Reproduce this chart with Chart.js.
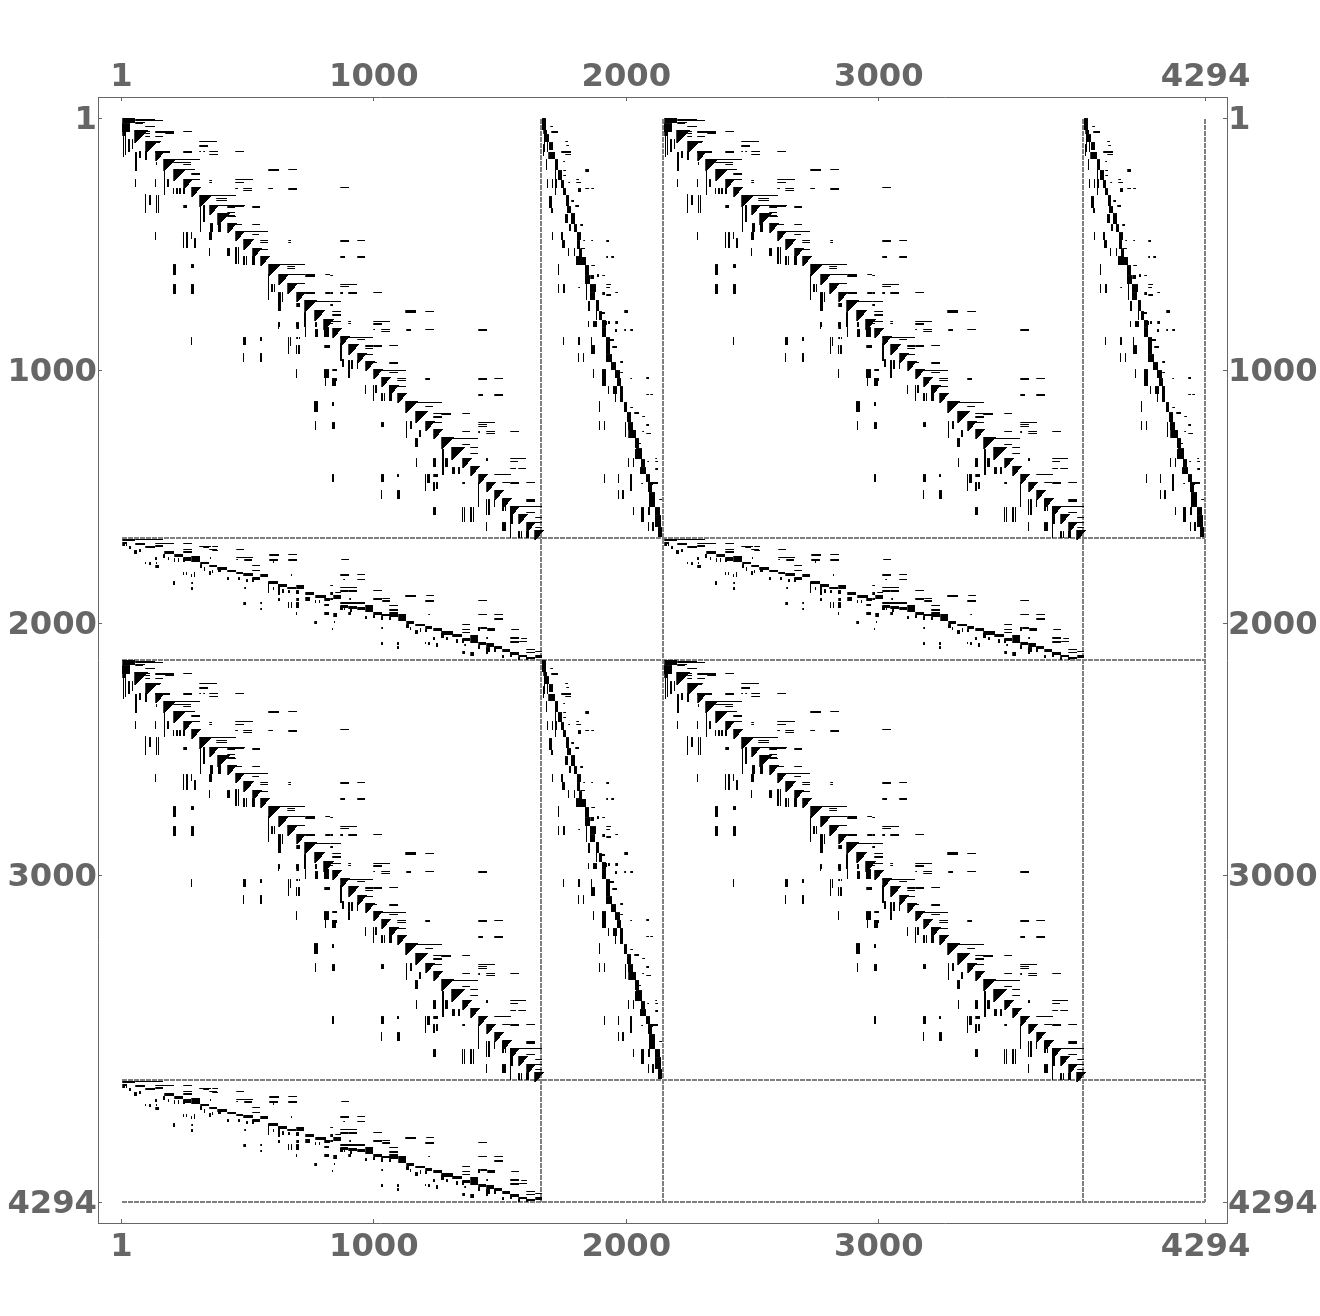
<!DOCTYPE html>
<html>
<head>
<meta charset="utf-8">
<title>Sparse matrix pattern</title>
<script src="https://cdn.jsdelivr.net/npm/chart.js@4"></script>
<style>
  html, body { margin: 0; padding: 0; background: #fff; }
  canvas { display: block; }
</style>
</head>
<body>
<canvas id="myChart" width="1320" height="1316"></canvas>
<script>
//TICK LABELS
const tickValues = [1, 1000, 2000, 3000, 4294];

//MATRIX IS READ IN CELLS OF ABOUT 4 ROWS / COLUMNS
const indicesPerCell = 3.96;

//WHERE THE REPEATED BLOCKS SIT (CELLS: COLUMN, ROW)
const blockACorners = [[0, 0], [542, 0], [0, 542], [542, 542]];
const blockBCorners = [[420, 0], [962, 0], [420, 542]];
const blockCCorners = [[0, 420], [542, 420], [0, 962]];

//SEPARATOR ROWS AND COLUMNS (MATRIX INDEX)
const separators = [1663, 2145, 3809, 4292];

//BLOCK A - FIRST COLUMN OF EACH DENSE DIAGONAL TRIANGLE
const diagStarts = [13, 24, 34, 42, 52, 62, 70, 78, 88, 96, 106, 114, 122, 131, 139, 147, 157, 166, 175, 183, 193, 202, 211, 219, 227, 236, 244, 252, 260, 268, 276, 284, 294, 304, 312, 320, 330, 341, 349, 357, 365, 373, 381, 389, 397, 405, 413, 421];

//BLOCK A - NONZERO RUNS ABOVE THE DIAGONAL [col1, col2, row1, row2]
const blockAUpper = [
  [1,13,0,4],[1,8,5,13],[1,4,14,17],
  [14,33,1,1],[14,41,2,2],[14,23,4,4],[14,21,5,5],[24,33,8,8],[24,28,13,13],[34,52,13,14],[62,70,13,13],[24,28,15,15],[44,52,15,15],[24,28,18,18],[34,41,18,18],
  [34,39,23,23],[78,95,23,23],[34,38,24,24],[78,86,27,28],[34,48,33,34],[62,70,33,34],[78,79,33,33],[82,83,33,33],[88,96,33,33],[114,122,33,33],[88,96,36,36],
  [44,78,41,41],[52,69,44,44],[62,69,46,46],[62,73,51,51],[147,157,51,52],[167,175,51,51],[70,78,55,56],[70,78,61,61],[114,131,61,61],[88,90,62,62],[88,90,64,64],[114,122,64,64],
  [114,116,70,70],[122,130,70,70],[147,151,70,70],[167,175,70,71],[122,130,72,72],[79,114,77,77],[95,105,80,80],[95,105,82,82],[96,123,87,87],[106,122,88,88],[131,138,88,89],[106,113,89,89],
  [106,113,94,94],[106,113,97,97],[106,114,98,98],[114,120,106,106],[131,138,106,106],[122,146,113,113],[131,137,116,116],[139,146,122,122],[167,169,122,122],[139,146,124,124],[167,169,124,124],[139,146,131,131],
  [156,183,146,146],[166,173,148,148],[166,173,150,150],[166,183,156,156],[184,193,156,158],[204,208,156,156],[175,183,165,165],[184,193,174,175],[204,208,174,175],[194,208,183,183],
  [219,227,69,69],[219,227,122,123],[236,243,122,122],[219,223,138,139],[236,243,138,139],[209,211,157,157],[219,235,166,166],[219,227,168,168],
  [209,211,174,175],[219,221,174,175],[227,235,174,175],[252,260,174,174],[209,219,183,183],[209,211,186,187],[284,294,192,194],[304,312,193,193],[211,219,193,193],[211,219,196,197],
  [209,219,203,203],[227,229,203,203],[252,268,203,203],[209,211,205,205],[227,229,205,205],[252,260,205,206],
  [252,253,211,211],[260,268,211,211],[285,289,211,212],[304,312,211,211],[357,365,211,212],[260,268,213,213],[219,251,219,219],[236,243,221,221],[252,260,227,228],[244,251,227,228],[268,276,227,227],
  [244,251,230,230],[244,251,236,236],[268,276,244,245],[252,255,244,244],[211,215,251,252],[260,284,252,252],[268,276,254,254],[211,215,260,262],[276,284,260,260],[304,308,260,261],[357,365,260,261],[373,381,260,260],
  [276,284,262,262],[276,284,268,268],[357,361,276,277],[373,381,276,277],[294,320,284,284],[304,311,288,288],[312,329,295,295],[320,329,296,296],[341,348,295,295],[312,320,298,299],
  [312,320,304,304],[357,373,304,304],[357,365,306,306],[357,365,308,308],[341,348,313,313],[357,358,313,314],[365,373,313,313],[389,397,313,313],[365,373,315,315],[321,356,320,320],[341,348,326,326],
  [349,356,329,329],[349,356,335,335],[389,404,340,340],[365,366,340,342],[389,396,343,343],[389,394,350,350],[397,404,350,350],[373,389,356,356],[381,388,364,364],[389,397,364,365],[405,413,364,364],
  [405,413,381,383],[397,420,388,388],[405,413,394,394],[414,420,399,399],[414,420,404,404],[414,420,409,409]
];

//BLOCK A - NONZERO RUNS BELOW THE DIAGONAL [col1, col2, row1, row2]
const blockALower = [
  [2,2,18,38],[4,4,18,36],[7,8,21,33],[11,11,21,30],[14,15,34,52],[14,14,61,68],[18,19,33,39],[24,25,33,41],[24,24,76,94],[28,29,77,86],[34,34,61,68],[35,35,77,94],[37,37,77,94],[34,34,114,121],[35,35,44,46],
  [43,43,51,76],[46,47,61,68],[52,52,70,75],[55,56,70,75],[58,59,70,75],[62,63,70,75],[62,65,87,89],[52,54,146,156],[52,54,166,175],[70,72,146,149],[70,72,166,175],[62,62,114,129],[65,66,114,129],[70,70,114,120],[73,74,120,129],
  [79,79,87,113],[82,83,87,103],[88,90,114,121],[88,88,130,137],[89,91,105,113],[97,99,105,113],[106,108,130,137],[114,115,129,145],[117,117,129,145],[122,123,138,146],[125,125,138,146],[131,133,138,146],[147,147,156,181],[150,151,166,173],[153,153,166,173],[157,159,174,192],[161,161,174,183],
  [175,178,185,188],[157,158,204,208],[175,177,204,208],[183,184,194,208],[194,195,204,208],
  [70,70,219,226],[122,124,219,226],[122,122,235,243],[139,140,219,222],[139,140,235,243],[167,167,219,235],[169,169,219,227],[175,176,219,220],[178,178,219,220],[175,175,227,235],[177,178,227,235],[157,157,209,210],[175,177,209,210],[184,184,209,218],[194,196,211,218],[203,207,209,218],[203,208,227,229],
  [175,175,251,259],[203,207,251,259],[204,204,260,267],[193,196,283,293],[194,194,303,311],
  [219,220,225,242],[221,222,241,248],[227,228,242,250],[230,231,242,250],[236,236,242,250],[227,228,251,259],[244,244,267,275],[252,252,267,282],[254,255,267,274],[260,261,275,282],[263,263,275,282],[268,270,267,282],
  [211,214,260,267],[211,213,304,310],[260,262,304,308],[211,212,284,287],[298,299,312,318],[294,296,320,328],[285,285,303,319],[289,290,303,310],[295,295,340,348],[312,314,340,348],[321,322,331,356],[324,326,340,348],[331,333,349,355],[337,338,349,355],
  [211,212,356,363],[260,262,356,363],[260,260,372,380],[276,278,372,380],[276,277,356,358],[304,304,356,372],[306,308,356,364],[312,316,356,358],[312,313,364,372],[315,316,364,370],[341,343,364,365],[357,357,364,388],[365,365,381,396],[367,368,381,396],[373,373,381,388],[381,382,381,392],[384,384,381,392],
  [312,314,389,396],[341,341,389,403],[343,343,389,403],[349,350,389,403],[352,352,389,403],[365,365,404,412],[381,384,404,412],[389,391,388,405],[389,389,406,419],[397,398,413,419],[400,400,413,419],[405,407,413,419]
];

//BLOCK B - NARROW STEEP DIAGONAL [col1, col2, row1, row2]
const blockBDiagonal = [
  [1,4,0,11],[2,5,12,15],[4,7,16,23],[8,11,24,31],[7,13,34,40],[14,16,41,51],[17,20,52,61],[20,22,62,69],[22,24,70,76],[25,27,77,87],[26,29,88,94],[24,26,96,104],[30,33,95,105],[28,29,106,112],[33,35,106,113],
  [36,39,114,121],[36,38,122,130],[38,40,131,138],[36,44,139,146],[44,47,147,156],[44,48,157,165],[49,52,157,160],[49,54,166,173],[49,53,174,181],[55,57,182,192],[58,60,193,201],[61,64,202,208],
  [61,64,209,218],[65,68,219,235],[65,70,236,243],[70,74,244,251],[74,78,252,259],[76,79,260,267],[79,81,268,283],[83,85,284,293],[86,89,294,303],[87,91,304,311],[87,94,312,319],[94,97,320,329],[95,100,330,340],
  [100,103,341,348],[99,104,349,355],[105,108,356,363],[107,110,364,373],[108,113,374,388],[114,118,389,396],[114,119,397,408],[117,120,409,418]
];

//BLOCK B - RUNS LEFT OF THE DIAGONAL
const blockBLeft = [
  [3,3,14,33],[6,6,24,33],[2,2,26,37],[5,5,41,51],[6,6,61,69],[11,11,61,69],[14,15,61,69],[14,14,52,76],[8,10,78,89],[10,11,90,94],[11,11,114,121],[20,21,114,121],[21,23,122,129],[27,27,130,137],[33,33,130,137],[35,37,138,146],
  [17,17,146,156],[17,17,166,174],[22,23,166,174],[45,45,166,181],[47,48,183,192],[55,55,182,201],[47,47,203,208],[52,55,203,208],
  [22,22,219,226],[37,38,219,226],[50,53,227,235],[50,50,219,226],[37,37,235,243],[42,42,235,243],[52,52,251,259],[61,64,251,267],[67,67,268,275],[72,75,268,275],[74,74,276,283],[58,58,283,293],[58,58,303,311],[63,63,303,311],[84,84,304,318],
  [87,87,340,348],[92,92,340,348],[94,95,331,340],[63,63,356,364],[77,77,356,364],[89,90,356,372],[77,77,372,380],[81,82,372,380],[92,92,389,396],[100,102,389,403],[107,107,404,412],[111,112,404,412],[107,108,389,396]
];

//BLOCK B - RUNS RIGHT OF THE DIAGONAL
const blockBRight = [
  [9,11,8,8],[10,16,13,14],[24,26,23,23],[25,27,27,27],[20,29,33,34],[24,29,36,36],[22,23,43,43],[44,47,51,53],[22,24,52,52],[22,24,57,57],[35,37,61,61],[35,39,64,64],[27,28,64,64],[37,39,70,73],[44,47,70,70],[50,52,70,70],
  [30,32,82,83],[34,37,87,88],[39,41,106,107],[42,43,122,122],[50,51,122,122],[65,67,122,123],[39,43,130,130],[65,66,138,139],[70,72,138,139],[50,53,147,147],[56,57,156,158],[61,63,157,157],[65,69,166,166],[65,68,169,169],
  [61,63,174,176],[65,69,176,177],[74,76,174,174],[83,86,192,194],[58,63,194,195],[62,65,203,206],[67,68,203,205],[74,76,203,205],[37,38,169,169],
  [74,75,211,213],[83,84,211,212],[89,91,211,212],[68,72,221,222],[71,75,228,229],[79,81,243,244],[79,81,254,254],[89,90,260,260],[105,107,259,260],[105,107,276,276],[109,111,276,276],[89,91,289,289],[93,97,294,295],[101,103,298,298],
  [105,107,306,307],[101,102,313,313],[105,109,315,315],[97,99,325,325],[114,115,340,340],[114,116,343,343],[114,116,350,351],[106,107,343,343],[109,116,364,365],[118,120,381,381],[108,111,365,366],[100,101,365,365]
];

//BLOCK C - FLAT BAND OF THE DIAGONAL [col1, col2, row1, row2]
const blockCDiagonal = [
  [1,13,1,2],[14,41,1,1],[1,5,4,5],[14,23,5,6],[24,33,8,9],[34,41,7,8],[34,52,5,5],[62,70,5,5],[43,52,13,15],[53,61,16,18],[62,70,13,14],[62,69,19,22],[70,78,18,23],[79,87,24,25],[88,95,27,28],[96,105,29,31],[106,114,32,33],
  [115,121,34,35],[122,131,35,37],[131,138,39,41],[139,146,36,38],[147,156,43,45],[157,165,46,48],[166,174,49,50],[175,182,47,50],[184,192,54,56],[194,204,57,59],[203,208,60,62],
  [209,211,54,56],[212,219,57,60],[209,211,60,61],[219,243,64,65],[219,226,67,69],[227,235,68,70],[236,243,69,71],[244,251,67,73],[252,260,74,76],[260,268,76,77],[268,276,74,78],[277,284,76,82],[285,292,83,85],[294,303,86,87],
  [304,310,88,90],[312,320,90,92],[320,331,93,96],[331,340,96,98],[341,348,100,102],[349,356,97,104],[357,364,104,106],[365,372,105,108],[373,380,108,110],[381,388,111,113],[389,397,114,116],[397,405,117,118],[406,413,119,120],[414,420,117,119]
];

//BLOCK C - RUNS ABOVE THE BAND
const blockCAbove = [
  [78,89,8,8],[82,87,9,9],[91,96,8,8],[91,96,12,12],[88,95,11,11],[115,122,11,11],[62,70,11,11],[148,157,16,17],[167,175,16,16],[167,175,21,22],[148,156,21,22],[115,131,19,19],[123,130,21,22],[115,116,21,21],[131,138,27,27],[131,138,32,32],
  [220,227,21,21],[219,227,36,37],[236,243,36,36],[236,243,41,41],[222,223,41,41],[209,211,47,47],[219,235,49,49],[219,226,52,53],[227,235,52,53],[214,219,54,54],[252,260,52,52],[252,260,60,61],[261,268,60,60],[261,268,62,63],
  [284,294,57,58],[305,312,57,57],[304,312,62,63],[357,365,62,62],[268,276,67,67],[268,276,71,72],[307,308,76,76],[357,365,76,76],[373,381,76,76],[373,381,80,81],[341,348,86,86],[341,348,91,91],[341,348,94,94],[357,358,89,92],[359,365,89,90],[366,373,90,92],[390,397,91,91],
  [389,397,99,100],[400,405,100,100],[398,405,103,103],[389,397,103,104],[405,413,111,111],[405,413,114,114],[414,420,113,113],[365,366,99,100]
];

//BLOCK C - RUNS BELOW THE BAND
const blockCBelow = [
  [1,3,6,7],[5,5,4,7],[8,9,8,10],[13,15,12,15],[18,19,11,13],[24,24,24,25],[28,29,24,26],[34,37,27,29],[34,35,19,21],[35,35,24,25],[42,43,16,19],[47,47,19,21],[53,53,20,23],[57,57,20,23],[62,63,20,23],[70,70,36,38],[62,62,34,36],[65,65,34,36],[73,73,34,38],
  [52,53,43,46],[70,71,44,45],[70,71,49,51],[79,80,26,29],[83,83,29,32],[88,89,33,36],[91,91,32,34],[97,99,30,33],[106,107,39,41],[117,118,39,41],[125,126,41,43],[131,132,40,43],[123,124,49,50],[147,147,44,54],[152,152,49,51],[152,152,23,24],[157,158,46,56],
  [161,162,51,54],[167,168,52,54],[175,177,52,55],[157,158,60,62],[175,177,60,62],[175,177,64,69],[167,167,64,69],[170,170,64,69],[184,188,59,62],[194,194,62,64],[198,198,62,64],[203,207,74,76],[193,195,83,85],[175,175,74,76],[203,207,66,67],[122,124,64,66],[139,140,64,65],[139,140,70,71],[89,89,19,20],[170,170,36,37],
  [212,215,75,78],[211,211,90,91],[260,261,89,90],[213,213,83,84],[228,229,60,61],[219,221,68,71],[223,223,70,71],[227,229,74,76],[229,230,71,73],[244,245,78,80],[252,253,77,79],[260,261,78,81],[268,269,79,81],[285,287,86,89],[289,289,89,91],[294,296,92,95],[299,299,90,93],[304,305,91,93],
  [312,313,99,101],[320,322,95,99],[325,326,99,101],[335,336,101,104],[341,342,101,104],[343,344,106,107],[365,366,113,115],[357,358,107,110],[365,368,109,113],[373,374,109,113],[381,382,117,119],[389,390,114,118],[397,398,119,121],[405,406,119,121],
  [260,261,104,106],[276,277,104,106],[276,277,108,110],[304,304,104,105],[307,308,104,106],[315,316,105,108],[341,343,113,115],[349,352,114,117]
];

//CELL -> MATRIX INDEX
const toIndex = (cell) => 1 + cell * indicesPerCell;

//DIAGONAL TRIANGLE -> ONE RUN PER ROW, THE TRIANGLE REACHES A BIT PAST THE NEXT BLOCK
function triangleRuns() {
  const runs = [];
  for (let i = 0; i < diagStarts.length - 1; i++) {
    const start = diagStarts[i];
    const size = diagStarts[i + 1] - start;
    const rows = Math.round(size * 1.2);
    for (let row = 0; row < rows; row++) {
      const last = start + Math.round((size * 1.25 - 1) * (1 - row / rows));
      runs.push([start, Math.max(last, start + 1), start - 1 + row, start - 1 + row]);
    }
  }
  return runs;
}

//RUNS -> POINTS OF A BROKEN LINE (NULL = GAP)
function runsToPoints(runs, corners) {
  const points = [];
  corners.forEach(([cx, cy]) => {
    runs.forEach(([x1, x2, y1, y2]) => {
      if (x2 - x1 >= y2 - y1) {
        const end = x2 === x1 ? x2 + 1 : x2;
        for (let r = y1; r <= y2; r++) {
          points.push({ x: toIndex(cx + x1), y: toIndex(cy + r) });
          points.push({ x: toIndex(cx + end), y: toIndex(cy + r) });
          points.push({ x: null, y: null });
        }
      } else {
        for (let c = x1; c <= x2; c++) {
          points.push({ x: toIndex(cx + c), y: toIndex(cy + y1) });
          points.push({ x: toIndex(cx + c), y: toIndex(cy + y2) });
          points.push({ x: null, y: null });
        }
      }
    });
  });
  return points;
}

function separatorPoints() {
  const points = [];
  separators.forEach((s) => {
    points.push({ x: 1, y: s }, { x: separators[3], y: s }, { x: null, y: null });
    points.push({ x: s, y: 1 }, { x: s, y: separators[3] }, { x: null, y: null });
  });
  return points;
}

function marks(label, runs, corners) {
  return {
    label,
    data: runsToPoints(runs, corners),
    showLine: true,
    spanGaps: false,
    pointRadius: 0,
    borderColor: "#000",
    borderWidth: 1,
    borderCapStyle: "square",
    snap: 0.5,
    order: 1,
  };
}

//KEEP THE RUNS ON WHOLE PIXELS, THE SPY PICTURE HAS NO SOFT EDGES
const snapToPixels = {
  id: "snapToPixels",
  afterDatasetsUpdate(chart) {
    chart.data.datasets.forEach((ds, i) => {
      chart.getDatasetMeta(i).data.forEach((p) => {
        if (p.skip) return;
        p.x = ds.snap ? Math.floor(p.x) + ds.snap : Math.round(p.x);
        p.y = ds.snap ? Math.floor(p.y) + ds.snap : Math.round(p.y);
      });
    });
  },
};

function axis(position, min, max, size, reverse, padding, labelOffset) {
  return {
    type: "linear",
    position,
    min,
    max,
    reverse,
    afterBuildTicks: (scale) => {
      scale.ticks = tickValues.map((value) => ({ value }));
    },
    afterFit: (scale) => {
      if (scale.isHorizontal()) scale.height = size;
      else scale.width = size;
    },
    border: { display: true, color: "#666", width: 1 },
    grid: { drawOnChartArea: false, tickLength: -4, tickColor: "#666" },
    ticks: {
      autoSkip: false,
      maxRotation: 0,
      padding,
      labelOffset,
      color: "#666",
      font: { family: "DejaVu Sans", size: 32.2, weight: "bold" },
      callback: (v) => String(v),
    },
  };
}

const xMin = -92.06, xMax = 4378.78, yMin = -84.14, yMax = 4374.82;

const config = {
  type: "scatter",
  data: {
    datasets: [
      marks("block A", triangleRuns().concat(blockAUpper, blockALower), blockACorners),
      marks("block B", blockBDiagonal.concat(blockBLeft, blockBRight), blockBCorners),
      marks("block C", blockCDiagonal.concat(blockCAbove, blockCBelow), blockCCorners),
      {
        label: "separators",
        data: separatorPoints(),
        showLine: true,
        spanGaps: false,
        pointRadius: 0,
        borderColor: "#808080",
        borderWidth: 2,
        borderDash: [5, 1],
        snap: 0,
        order: 2,
      },
    ],
  },
  options: {
    responsive: false,
    animation: false,
    layout: { padding: 0 },
    plugins: { legend: { display: false }, tooltip: { enabled: false } },
    scales: {
      x: axis("bottom", xMin, xMax, 93, false, 9, 0),
      xTop: axis("top", xMin, xMax, 97, false, 4, 0),
      y: axis("left", yMin, yMax, 98, true, 5, 2),
      yRight: axis("right", yMin, yMax, 93, true, 5, 2),
    },
  },
  plugins: [snapToPixels],
};

// RENDER CHART
new Chart(document.getElementById("myChart"), config);
</script>
</body>
</html>
